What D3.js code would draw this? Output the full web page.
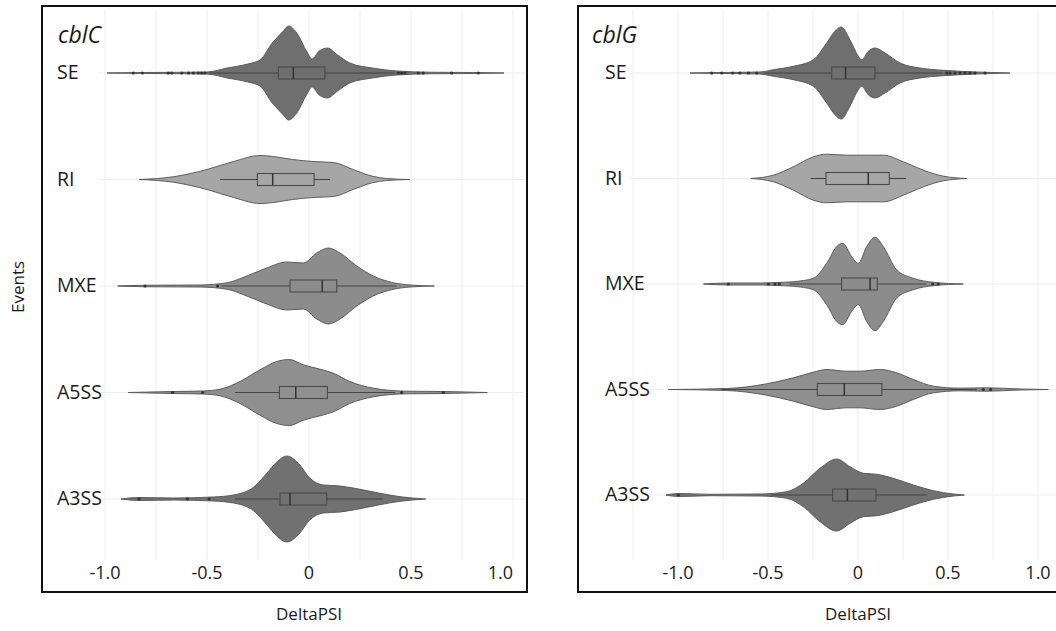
<!DOCTYPE html>
<html>
<head>
<meta charset="utf-8">
<script src="https://cdn.jsdelivr.net/npm/d3@7"></script>
<style>
  html, body { margin: 0; padding: 0; background: #fff; }
  svg { display: block; }
  text { font-family: "Open Sans", "Liberation Sans", sans-serif; fill: #1a1a1a; }
</style>
</head>
<body>
<svg id="chart" width="1056" height="631"></svg>
<script>
// ---------------- DATA ----------------
const categories = ["SE", "RI", "MXE", "A5SS", "A3SS"];
const panelTitles = ["cblC", "cblG"];
const xTicks = [-1.0, -0.5, 0, 0.5, 1.0];
const xTickLabels = ["-1.0", "-0.5", "0", "0.5", "1.0"];
const gridValues = [-1.25, -1.0, -0.75, -0.5, -0.25, 0, 0.25, 0.5, 0.75, 1.0];
const xAxisTitle = "DeltaPSI";
const yAxisTitle = "Events";

// violin outlines: [DeltaPSI, relative density]
const cblC_SE = [[-0.99,0],[-0.8,0.01],[-0.6,0.015],[-0.5,0.02],[-0.40,0.10],[-0.30,0.18],[-0.24,0.26],[-0.18,0.60],[-0.13,0.82],[-0.10,0.94],[-0.06,0.80],[-0.01,0.42],[0.015,0.28],[0.05,0.44],[0.09,0.50],[0.14,0.36],[0.20,0.20],[0.31,0.10],[0.43,0.04],[0.6,0.015],[0.8,0.01],[0.956,0]];
const cblC_RI = [[-0.833,0],[-0.665,0.054],[-0.50,0.20],[-0.37,0.36],[-0.24,0.48],[-0.175,0.46],[-0.08,0.40],[0.02,0.36],[0.12,0.34],[0.216,0.20],[0.31,0.066],[0.38,0.02],[0.495,0]];
const cblC_MXE = [[-0.938,0],[-0.80,0.015],[-0.534,0.02],[-0.40,0.066],[-0.305,0.20],[-0.207,0.36],[-0.109,0.48],[-0.028,0.46],[0.038,0.66],[0.095,0.76],[0.152,0.66],[0.234,0.40],[0.315,0.20],[0.413,0.066],[0.495,0.02],[0.614,0]];
const cblC_A5SS = [[-0.886,0],[-0.665,0.02],[-0.52,0.03],[-0.436,0.066],[-0.338,0.22],[-0.24,0.454],[-0.158,0.62],[-0.096,0.66],[-0.028,0.554],[0.054,0.466],[0.119,0.386],[0.2,0.22],[0.315,0.086],[0.479,0.026],[0.66,0.02],[0.874,0]];
const cblC_A3SS = [[-0.922,0],[-0.833,0.03],[-0.665,0.02],[-0.469,0.04],[-0.37,0.08],[-0.27,0.24],[-0.207,0.514],[-0.158,0.74],[-0.109,0.86],[-0.052,0.714],[0.005,0.414],[0.07,0.28],[0.152,0.26],[0.25,0.194],[0.348,0.114],[0.446,0.046],[0.572,0]];

const cblG_SE = [[-0.933,0],[-0.75,0.01],[-0.544,0.02],[-0.47,0.066],[-0.359,0.134],[-0.248,0.266],[-0.174,0.60],[-0.128,0.834],[-0.094,0.92],[-0.044,0.66],[0.002,0.334],[0.02,0.266],[0.057,0.434],[0.094,0.50],[0.15,0.40],[0.233,0.20],[0.344,0.10],[0.474,0.054],[0.659,0.02],[0.844,0]];
const cblG_RI = [[-0.596,0],[-0.47,0.066],[-0.359,0.234],[-0.248,0.434],[-0.174,0.486],[-0.063,0.466],[0.048,0.466],[0.141,0.466],[0.252,0.334],[0.363,0.166],[0.474,0.046],[0.604,0]];
const cblG_MXE = [[-0.859,0],[-0.72,0.02],[-0.544,0.02],[-0.45,0.03],[-0.359,0.046],[-0.248,0.114],[-0.174,0.414],[-0.119,0.746],[-0.085,0.814],[-0.035,0.546],[0.002,0.414],[0.048,0.746],[0.094,0.934],[0.141,0.746],[0.215,0.28],[0.307,0.114],[0.419,0.034],[0.585,0]];
const cblG_A5SS = [[-1.054,0],[-0.73,0.02],[-0.507,0.114],[-0.359,0.234],[-0.248,0.346],[-0.174,0.40],[-0.063,0.366],[0.011,0.366],[0.122,0.40],[0.215,0.334],[0.307,0.20],[0.419,0.066],[0.567,0.026],[0.715,0.034],[0.9,0.01],[1.057,0]];
const cblG_A3SS = [[-1.067,0],[-0.998,0.03],[-0.822,0.014],[-0.544,0.02],[-0.396,0.066],[-0.304,0.234],[-0.211,0.534],[-0.119,0.72],[-0.044,0.566],[0.03,0.434],[0.104,0.414],[0.196,0.334],[0.307,0.20],[0.419,0.086],[0.53,0.02],[0.591,0]];

// box stats per category: [lower whisker, Q1, median, Q3, upper whisker]
const cblC_box = [[-0.49,-0.150,-0.077,0.078,0.42],[-0.436,-0.253,-0.178,0.025,0.103],[-0.43,-0.093,0.065,0.136,0.43],[-0.363,-0.145,-0.065,0.090,0.422],[-0.363,-0.142,-0.093,0.087,0.364]];
const cblG_box = [[-0.52,-0.146,-0.069,0.094,0.47],[-0.263,-0.178,0.057,0.174,0.267],[-0.38,-0.091,0.067,0.107,0.38],[-0.76,-0.226,-0.076,0.133,0.66],[-0.48,-0.141,-0.059,0.100,0.381]];

// outliers per category
const cblC_outliers = [[-0.861,-0.817,-0.69,-0.673,-0.624,-0.591,-0.567,-0.543,-0.526,-0.51,0.438,0.454,0.47,0.536,0.56,0.699,0.83],[],[-0.804,-0.448],[-0.669,-0.521,0.454,0.658],[-0.833,-0.596,-0.490]];
const cblG_outliers = [[-0.813,-0.757,-0.696,-0.656,-0.609,-0.563,0.493,0.511,0.539,0.567,0.594,0.622,0.65,0.706],[],[-0.72,-0.498,-0.461,-0.437,0.415,0.446],[0.696,0.737],[-0.998]];

const fills = ["#6f6f6f", "#a6a6a6", "#8c8c8c", "#8f8f8f", "#717171"];

// ---------------- LAYOUT ----------------
const svg = d3.select("#chart");

const panels = [
  { title: panelTitles[0], violins: [cblC_SE, cblC_RI, cblC_MXE, cblC_A5SS, cblC_A3SS], box: cblC_box, outliers: cblC_outliers,
    frame: [42, 6, 485, 586], plot: [98, 525], zeroPx: 309, unitPx: 204, rows: [73, 499], labelX: 57, titleX: 58, gridLeft: -1.0 },
  { title: panelTitles[1], violins: [cblG_SE, cblG_RI, cblG_MXE, cblG_A5SS, cblG_A3SS], box: cblG_box, outliers: cblG_outliers,
    frame: [578, 6, 520, 586], plot: [630, 1056], zeroPx: 858, unitPx: 180, rows: [73, 495], labelX: 605, titleX: 592, gridLeft: -1.25 }
];

const wScale = d3.scaleLinear().domain([0, 1]).range([0, 50]);

panels.forEach(p => {
  const x = d3.scaleLinear().domain([0, 1]).range([p.zeroPx, p.zeroPx + p.unitPx]);
  const y = d3.scalePoint().domain(categories).range(p.rows);
  const g = svg.append("g");

  // grid
  const gridTop = 10, gridBottom = 560;
  g.selectAll(".vgrid").data(gridValues.filter(v => v >= p.gridLeft && x(v) <= 1056)).enter()
    .append("line")
    .attr("x1", d => x(d)).attr("x2", d => x(d))
    .attr("y1", gridTop).attr("y2", gridBottom)
    .attr("stroke", "#eeeeee").attr("stroke-width", 1);
  g.selectAll(".hgrid").data(categories).enter()
    .append("line")
    .attr("x1", p.plot[0]).attr("x2", p.plot[1])
    .attr("y1", d => y(d)).attr("y2", d => y(d))
    .attr("stroke", "#eeeeee").attr("stroke-width", 1);

  // violins
  categories.forEach((c, i) => {
    const yc = y(c);
    const area = d3.area()
      .x(d => x(d[0]))
      .y0(d => yc + wScale(d[1]))
      .y1(d => yc - wScale(d[1]))
      .curve(d3.curveMonotoneX);
    g.append("path")
      .datum(p.violins[i])
      .attr("d", area)
      .attr("fill", fills[i])
      .attr("stroke", "#5c5c5c")
      .attr("stroke-width", 1);

    const b = p.box[i];
    // whiskers
    g.append("line")
      .attr("x1", x(b[0])).attr("x2", x(b[1]))
      .attr("y1", yc).attr("y2", yc)
      .attr("stroke", "#454545").attr("stroke-width", 1.1);
    g.append("line")
      .attr("x1", x(b[3])).attr("x2", x(b[4]))
      .attr("y1", yc).attr("y2", yc)
      .attr("stroke", "#454545").attr("stroke-width", 1.1);
    // box
    g.append("rect")
      .attr("x", x(b[1])).attr("width", x(b[3]) - x(b[1]))
      .attr("y", yc - 6).attr("height", 12)
      .attr("fill", fills[i]).attr("stroke", "#4a4a4a").attr("stroke-width", 1.1);
    // median
    g.append("line")
      .attr("x1", x(b[2])).attr("x2", x(b[2]))
      .attr("y1", yc - 6).attr("y2", yc + 6)
      .attr("stroke", "#333").attr("stroke-width", 1.5);
    // outliers
    g.selectAll(null).data(p.outliers[i]).enter()
      .append("circle")
      .attr("cx", d => x(d)).attr("cy", yc).attr("r", 1.6)
      .attr("fill", "#333");
  });

  // category labels
  categories.forEach(c => {
    g.append("text")
      .attr("x", p.labelX).attr("y", y(c) + 6)
      .attr("font-size", 19.5)
      .text(c);
  });

  // tick labels
  g.selectAll(".tick").data(xTicks).enter()
    .append("text")
    .attr("x", d => x(d))
    .attr("y", 579)
    .attr("text-anchor", (d, i) => (i === xTicks.length - 1 && p.title === "cblC") ? "end" : "middle")
    .attr("font-size", 18)
    .text((d, i) => xTickLabels[i]);

  // panel title
  g.append("text")
    .attr("x", p.titleX).attr("y", 43)
    .attr("font-size", 23).attr("font-style", "italic")
    .text(p.title);

  // frame
  g.append("rect")
    .attr("x", p.frame[0]).attr("y", p.frame[1])
    .attr("width", p.frame[2]).attr("height", p.frame[3])
    .attr("fill", "none").attr("stroke", "#111").attr("stroke-width", 2);

  // x axis title
  svg.append("text")
    .attr("x", x(0)).attr("y", 620)
    .attr("text-anchor", "middle")
    .attr("font-size", 17)
    .text(xAxisTitle);
});

// y axis title
svg.append("text")
  .attr("transform", "translate(24,287) rotate(-90)")
  .attr("text-anchor", "middle")
  .attr("font-size", 17)
  .text(yAxisTitle);
</script>
</body>
</html>
